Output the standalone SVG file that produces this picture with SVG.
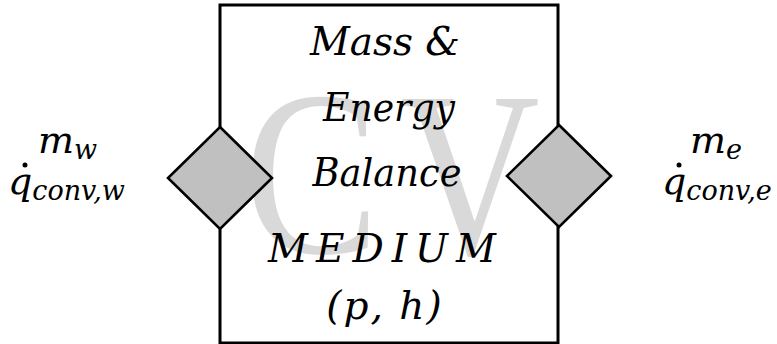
<svg xmlns="http://www.w3.org/2000/svg" width="777" height="344" viewBox="0 0 777 344">
<style>
.t{font-family:"DejaVu Serif","Liberation Serif",serif;font-style:italic;font-size:39px;fill:#000}
.l{font-family:"DejaVu Serif","Liberation Serif",serif;font-style:italic;font-size:38px;fill:#000}
.s{font-size:27px}
.cv{font-family:"Liberation Serif","DejaVu Serif",serif;font-size:236px;fill:#d9d9d9}
.dia{fill:#c0c0c0;stroke:#000;stroke-width:2.6;stroke-linejoin:miter}
</style>
<rect width="777" height="344" fill="#fff"/>
<g id="cv-box">
<rect x="220" y="5" width="338" height="338" fill="#fff" stroke="#000" stroke-width="3"/>
<text class="cv" x="0" y="253" transform="translate(244,0) scale(0.86,1)">C</text>
<text class="cv" x="0" y="253" transform="translate(400,0) scale(0.82,1)">V</text>
<text class="t" x="385" y="55" text-anchor="middle" textLength="150" lengthAdjust="spacingAndGlyphs">Mass &amp;</text>
<text class="t" x="389" y="121" text-anchor="middle" textLength="132" lengthAdjust="spacingAndGlyphs">Energy</text>
<text class="t" x="387" y="186" text-anchor="middle" textLength="149" lengthAdjust="spacingAndGlyphs">Balance</text>
<text class="t" x="386" y="262" text-anchor="middle" style="letter-spacing:8px">MEDIUM</text>
<text class="t" x="385" y="319" text-anchor="middle" style="letter-spacing:2px">(p, h)</text>
</g>
<g id="connectors">
<polygon id="port-w" class="dia" points="220,127 272,178 220,229 168,178"/>
<polygon id="port-e" class="dia" points="559,125 611,176 559,227 507,176"/>
</g>
<g id="label-w">
<text class="l" x="38" y="153">m<tspan class="s" dy="6">w</tspan></text>
<text class="l" x="8" y="194">q<tspan class="s" dy="6">conv,w</tspan></text>
<circle cx="25" cy="165" r="2.5" fill="#000"/>
</g>
<g id="label-e">
<text class="l" x="690" y="153">m<tspan class="s" dy="6">e</tspan></text>
<text class="l" x="662" y="194">q<tspan class="s" dy="6">conv,e</tspan></text>
<circle cx="679" cy="165" r="2.5" fill="#000"/>
</g>
</svg>
